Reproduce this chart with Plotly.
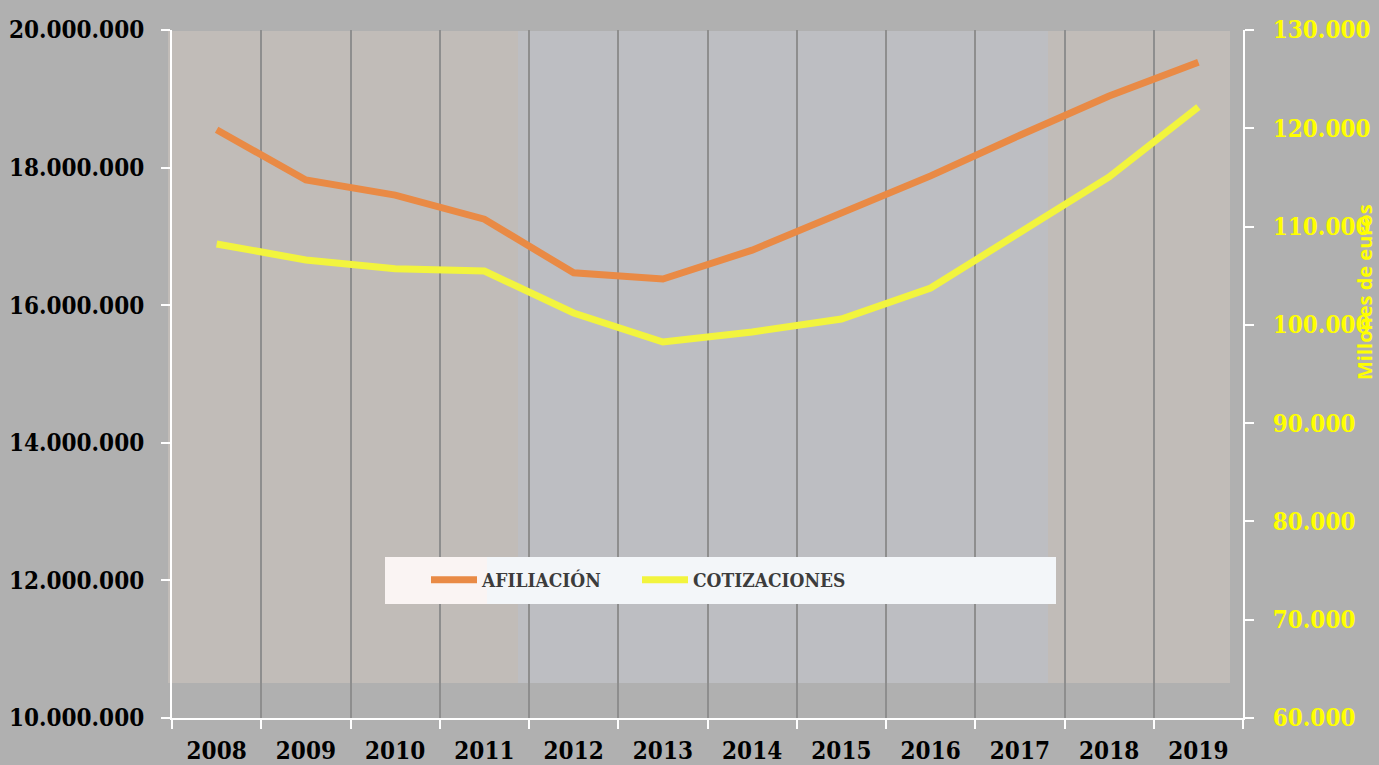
import plotly.graph_objects as go

years = ["2008", "2009", "2010", "2011", "2012", "2013", "2014", "2015", "2016", "2017", "2018", "2019"]
afiliacion = [18550000, 17820000, 17600000, 17250000, 16470000, 16380000, 16800000, 17340000, 17880000, 18470000, 19040000, 19530000]
cotizaciones = [108230, 106600, 105700, 105480, 101210, 98260, 99280, 100600, 103750, 109350, 115050, 122170]
left_ticks = [10000000, 12000000, 14000000, 16000000, 18000000, 20000000]
left_labels = ["10.000.000", "12.000.000", "14.000.000", "16.000.000", "18.000.000", "20.000.000"]
right_ticks = [60000, 70000, 80000, 90000, 100000, 110000, 120000, 130000]
right_labels = ["60.000", "70.000", "80.000", "90.000", "100.000", "110.000", "120.000", "130.000"]

W, H = 1379, 765
L, R, T, B = 172, 136, 30, 47
PW, PH = W - L - R, H - T - B

def px(x):
    return (x - L) / PW

def py(y):
    return (H - B - y) / PH

fig = go.Figure()
fig.add_trace(go.Scatter(x=years, y=afiliacion, name="AFILIACIÓN", mode="lines",
                         line=dict(color="#E98A45", width=7), yaxis="y"))
fig.add_trace(go.Scatter(x=years, y=cotizaciones, name="COTIZACIONES", mode="lines",
                         line=dict(color="#F2F43E", width=7), yaxis="y2"))

shapes = []
for x0, x1, col in [(168, 518, "#C1BCB8"), (518, 1048, "#BDBEC2"), (1048, 1230, "#C1BCB8")]:
    shapes.append(dict(type="rect", xref="paper", yref="paper", x0=px(x0), x1=px(x1),
                       y0=py(683), y1=py(31), fillcolor=col, line=dict(width=0), layer="below"))
shapes.append(dict(type="rect", xref="paper", yref="paper", x0=px(385), x1=px(1056),
                   y0=py(604), y1=py(557), fillcolor="#F3F6F9", line=dict(width=0), layer="above"))
shapes.append(dict(type="rect", xref="paper", yref="paper", x0=px(385), x1=px(487),
                   y0=py(604), y1=py(557), fillcolor="#FAF4F3", line=dict(width=0), layer="above"))

SERIF = "DejaVu Serif Condensed, DejaVu Serif"
tickfont = dict(family=SERIF, size=24, color="#000000", weight="bold")

fig.update_layout(
    width=W, height=H,
    margin=dict(l=L, r=R, t=T, b=B, autoexpand=False),
    paper_bgcolor="#B0B0B0",
    plot_bgcolor="rgba(0,0,0,0)",
    shapes=shapes,
    showlegend=True,
    legend=dict(orientation="h", x=px(426), xanchor="left", y=py(580), yanchor="middle",
                bgcolor="rgba(0,0,0,0)", entrywidth=150, itemwidth=46,
                font=dict(family=SERIF, size=19, color="#3C3C3C", weight="bold")),
    xaxis=dict(type="category", range=[-0.5, 11.5], tickson="boundaries", ticks="outside",
               ticklen=9, tickwidth=2, tickcolor="#FFFFFF", showline=True, linecolor="#FFFFFF",
               linewidth=2, showgrid=True, gridcolor="#8E8E8E", gridwidth=2, automargin=False,
               tickfont=tickfont, ticklabelstandoff=10, fixedrange=True),
    yaxis=dict(range=[10000000, 20000000], tickvals=left_ticks, ticktext=left_labels,
               ticks="outside", ticklen=9, tickwidth=2, tickcolor="#FFFFFF", showline=True,
               linecolor="#FFFFFF", linewidth=2, showgrid=False, zeroline=False, automargin=False,
               tickfont=tickfont, ticklabelstandoff=12, fixedrange=True),
    yaxis2=dict(range=[60000, 130000], tickvals=right_ticks, ticktext=right_labels,
                overlaying="y", side="right", ticks="outside", ticklen=9, tickwidth=2,
                tickcolor="#FFFFFF", showline=True, linecolor="#FFFFFF", linewidth=2,
                showgrid=False, zeroline=False, ticklabelstandoff=14, automargin=False,
                tickfont=dict(family=SERIF, size=24, color="#FFFF00", weight="bold"),
                fixedrange=True),
    annotations=[dict(text="Millones de euros", textangle=-90, xref="paper", yref="paper",
                      x=px(1364), y=py(292), xanchor="center", yanchor="middle", showarrow=False,
                      font=dict(family="Open Sans", size=20, color="#FFFF00", weight="bold"))],
)

fig.write_html("out.html", config={"displayModeBar": False},
               post_script="document.body.style.margin='0';")
